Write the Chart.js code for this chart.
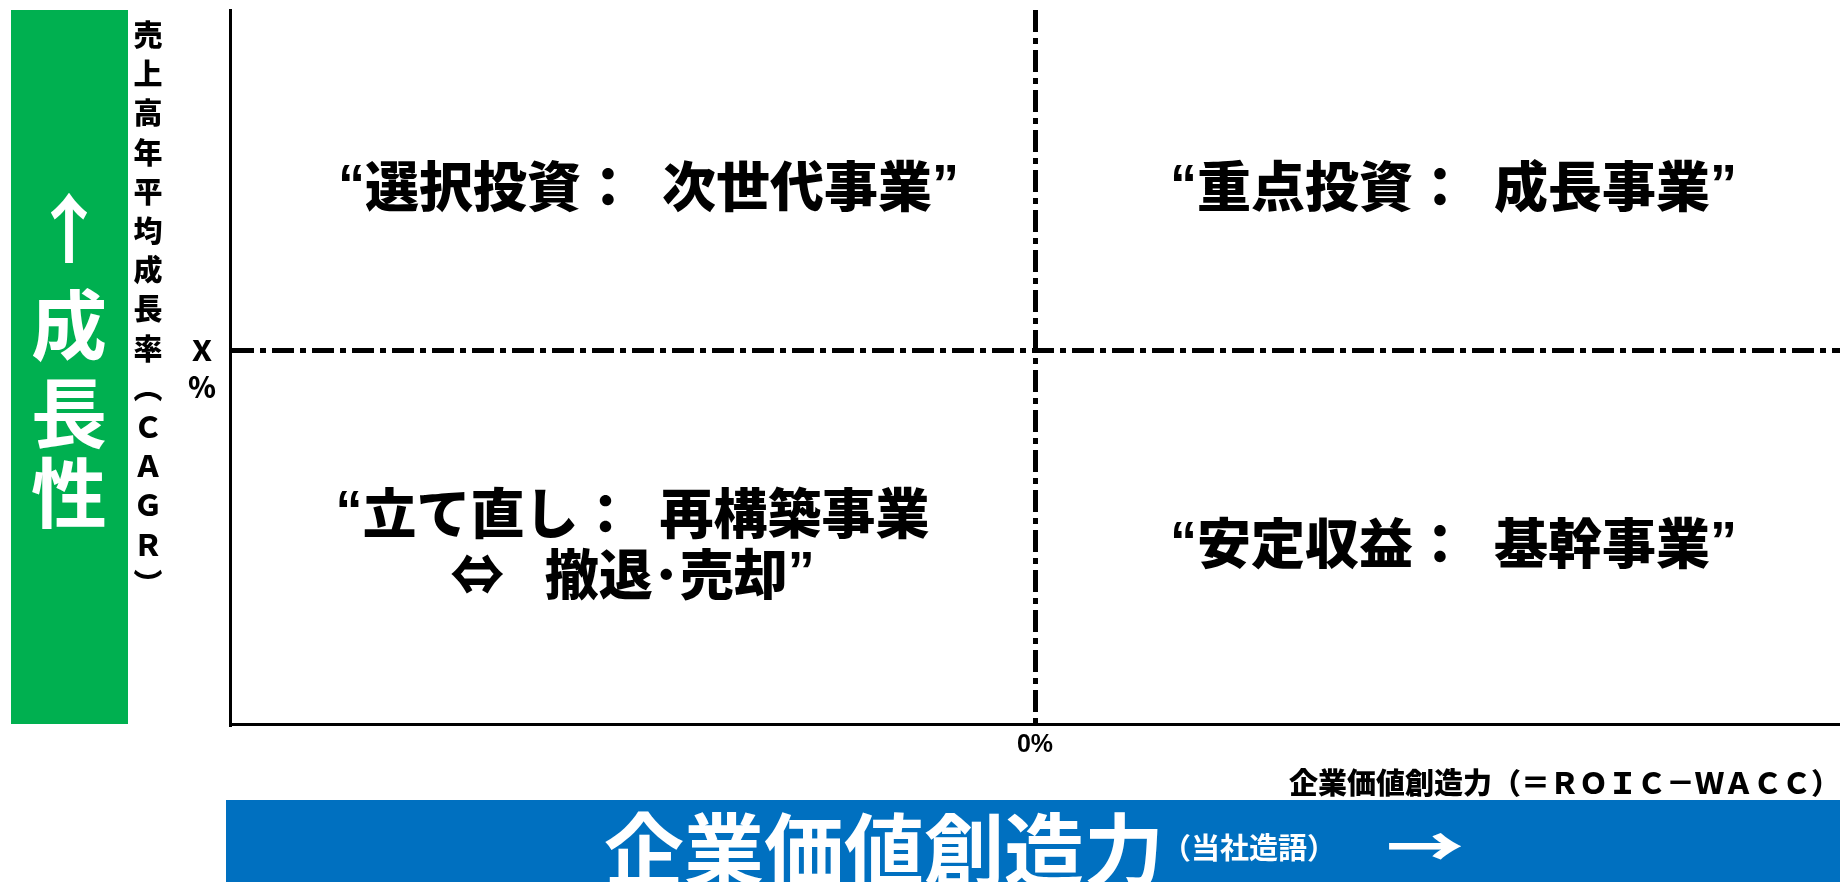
<!DOCTYPE html>
<html lang="ja">
<head>
<meta charset="utf-8">
<title>成長性 × 企業価値創造力</title>
<script src="https://cdn.jsdelivr.net/npm/chart.js@4.4.1/dist/chart.umd.min.js"></script>
<style>
  html, body { margin: 0; padding: 0; background: #ffffff; }
  #wrap { width: 1840px; height: 882px; position: relative; }
</style>
</head>
<body>
<div id="wrap"><canvas id="matrix" width="1840" height="882"></canvas></div>
<script>
// Quadrant captions, one entry per quadrant (each a list of lines)
const quadrantLabels = [
  ['“選択投資：\u2002次世代事業”'],
  ['“重点投資：\u2002成長事業”'],
  ['“立て直し：\u2002再構築事業', '⇔\u2002\u2005撤退･売却”'],
  ['“安定収益：\u2002基幹事業”']
];
// Where each caption sits, in axis units
const quadrantX = [-0.48, 0.52, -0.50, 0.52];
const quadrantY = [0.48, 0.48, -0.57, -0.57];

// Axis ranges and the dividing thresholds
const xRange = [-1, 1];
const yRange = [-1.1, 1];
const xThreshold = 0;   // ROIC − WACC = 0%
const yThreshold = 0;   // CAGR = X%
const xTickLabel = '0%';
const yTickLabel = ['', 'Ｘ', '％'];

// Axis titles and banners
const yAxisTitle = '売上高年平均成長率︵ＣＡＧＲ︶';
const xAxisTitle = '企業価値創造力（＝ＲＯＩＣ－ＷＡＣＣ）';
const growthBanner = ['↑', '成', '長', '性'];
const valueBanner = '企業価値創造力';
const valueBannerNote = '（当社造語）';
const valueBannerArrow = '→';

const JP = "'Noto Sans CJK JP', sans-serif";
const LATIN = "'Liberation Sans', sans-serif";
const GREEN = '#00B050';
const BLUE = '#0070C0';
const DASH = [22, 6, 6, 6];

Chart.defaults.font.family = JP;
Chart.defaults.color = '#000';

// Draws one centred line, taking the curly quotes from a Latin face
function drawCaptionLine(ctx, text, cx, cy, size, weight) {
  const runs = [];
  for (const ch of text) {
    const face = /[“”]/.test(ch) ? LATIN : JP;
    const font = `${weight} ${size}px ${face}`;
    const last = runs[runs.length - 1];
    if (last && last.font === font) last.t += ch; else runs.push({ font, t: ch });
  }
  let total = 0;
  runs.forEach(r => { ctx.font = r.font; r.w = ctx.measureText(r.t).width; total += r.w; });
  let px = cx - total / 2;
  ctx.textAlign = 'left';
  runs.forEach(r => { ctx.font = r.font; ctx.fillText(r.t, px, cy); px += r.w; });
}

const matrixDecor = {
  id: 'matrixDecor',
  afterDraw(chart) {
    const { ctx, chartArea, scales: { x, y } } = chart;
    ctx.save();

    // Green growth banner on the far left
    ctx.fillStyle = GREEN;
    ctx.fillRect(11, 10, 117, chartArea.bottom - 10);
    ctx.fillStyle = '#fff';
    ctx.textAlign = 'center';
    ctx.textBaseline = 'middle';
    ctx.font = `bold 76px ${JP}`;
    const bannerY = [228, 325, 413, 493];
    growthBanner.forEach((ch, i) => ctx.fillText(ch, 69, bannerY[i]));

    // Vertical y-axis title, one glyph per row
    ctx.fillStyle = '#000';
    ctx.font = `900 29px ${JP}`;
    Array.from(yAxisTitle).forEach((ch, i) => ctx.fillText(ch, 148, 35 + i * 39.2));

    // Quadrant captions
    quadrantLabels.forEach((lines, i) => {
      const px = x.getPixelForValue(quadrantX[i]);
      const py = y.getPixelForValue(quadrantY[i]);
      const lh = 61;
      const top = py - (lines.length - 1) * lh / 2;
      lines.forEach((t, j) => drawCaptionLine(ctx, t, px, top + j * lh, 54, 900));
    });

    // Blue value-creation banner along the bottom
    ctx.fillStyle = BLUE;
    ctx.fillRect(226, 800, chart.width - 226, chart.height - 800);
    ctx.fillStyle = '#fff';
    ctx.textAlign = 'left';
    ctx.textBaseline = 'alphabetic';
    ctx.font = `bold 80px ${JP}`;
    ctx.fillText(valueBanner, 604, 880);
    const bw = ctx.measureText(valueBanner).width;
    ctx.textBaseline = 'middle';
    ctx.font = `bold 29px ${JP}`;
    ctx.fillText(valueBannerNote, 602 + bw, 848);

    // Long arrow after the banner note
    ctx.font = `900 54px ${JP}`;
    const aw = ctx.measureText(valueBannerArrow).width;
    ctx.translate(1386, 846);
    ctx.scale(78 / aw, 1);
    ctx.fillText(valueBannerArrow, 0, 0);

    ctx.restore();
  }
};

new Chart(document.getElementById('matrix'), {
  type: 'scatter',
  data: {
    datasets: [{
      label: '事業区分',
      data: quadrantX.map((v, i) => ({ x: v, y: quadrantY[i] })),
      pointRadius: 0,
      pointHoverRadius: 0
    }]
  },
  options: {
    responsive: false,
    animation: false,
    events: [],
    layout: { padding: { top: 10, left: 0, right: 0, bottom: 0 } },
    plugins: { legend: { display: false }, tooltip: { enabled: false } },
    scales: {
      x: {
        type: 'linear',
        min: xRange[0],
        max: xRange[1],
        afterFit: s => { s.height = 158; s.paddingLeft = 0; s.paddingRight = 0; },
        afterBuildTicks: s => { s.ticks = [{ value: xThreshold }]; },
        grid: { color: '#000', lineWidth: 5, drawTicks: false },
        border: { display: true, color: '#000', width: 3, dash: DASH },
        ticks: {
          callback: () => xTickLabel,
          color: '#000',
          font: { family: LATIN, size: 25, weight: 'bold' },
          padding: 6,
          maxRotation: 0,
          autoSkip: false
        },
        title: {
          display: true,
          text: xAxisTitle,
          align: 'end',
          color: '#000',
          font: { family: JP, size: 29, weight: '900' },
          padding: { top: 0, bottom: 82 }
        }
      },
      y: {
        type: 'linear',
        min: yRange[0],
        max: yRange[1],
        afterFit: s => { s.width = 230; s.paddingTop = 0; s.paddingBottom = 0; },
        afterBuildTicks: s => { s.ticks = [{ value: yThreshold }]; },
        grid: { color: '#000', lineWidth: 5, drawTicks: false },
        border: { display: true, color: '#000', width: 3, dash: DASH },
        ticks: {
          callback: () => yTickLabel,
          color: '#000',
          font: { family: JP, size: 28, weight: '900', lineHeight: 1.35 },
          padding: 14,
          autoSkip: false
        }
      }
    }
  },
  plugins: [matrixDecor]
});
</script>
</body>
</html>
